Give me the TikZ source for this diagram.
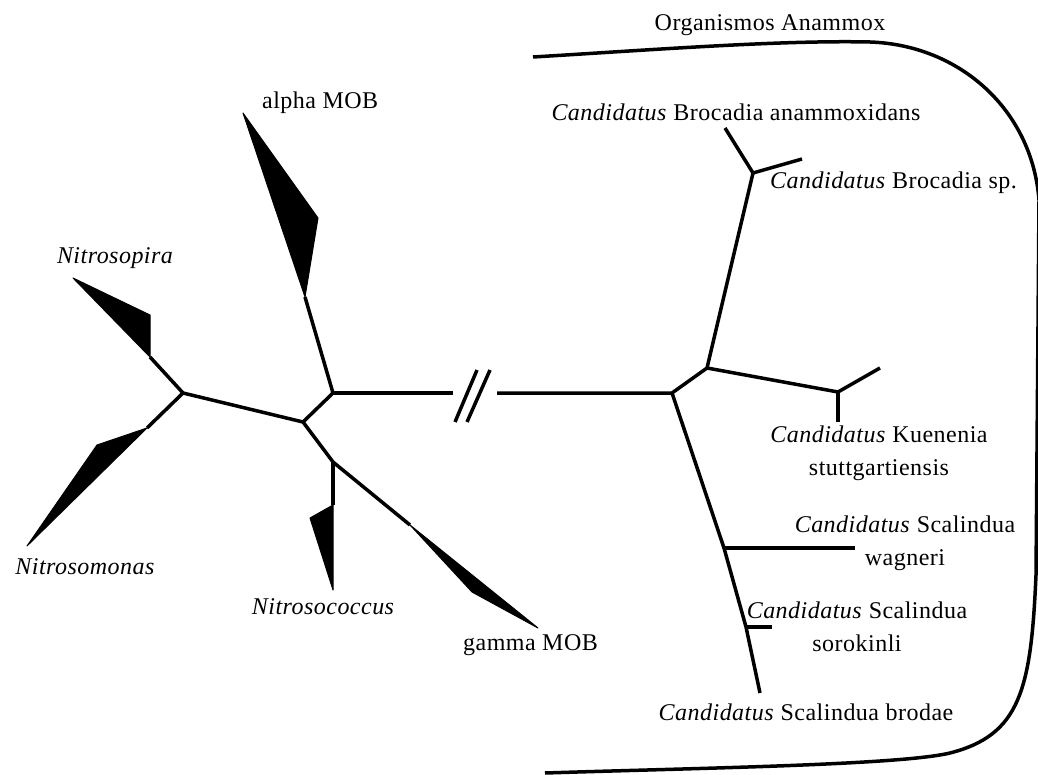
\documentclass[tikz,border=0pt]{standalone}
\usepackage{fontspec}
\setmainfont{Liberation Serif}[LetterSpace=2]
\begin{document}
\begin{tikzpicture}[x=1pt,y=-1pt,
  br/.style={line width=3.5pt,line join=round},
  wedge/.style={fill=black,draw=black,line width=1pt,line join=round},
  lbl/.style={inner sep=0pt,align=center,font=\fontsize{24}{33}\selectfont}]
\useasboundingbox (0,0) rectangle (1038,775);
% junctions
\coordinate (A) at (183,393);
\coordinate (B) at (303,422);
\coordinate (C) at (333,393);
\coordinate (D) at (333,462);
\coordinate (bl) at (453,393);
\coordinate (brr) at (497,393);
\coordinate (E) at (672,393);
\coordinate (F) at (707,368);
\coordinate (G) at (753,173);
\coordinate (H) at (838,392);
\coordinate (S1) at (724,548);
\coordinate (S2) at (746,627);
% stem ends
\coordinate (spB) at (150,357);
\coordinate (smB) at (147,428);
\coordinate (alB) at (305,297);
\coordinate (ncB) at (333,505);
\coordinate (gmB) at (410,525);
% tips
\coordinate (tBa) at (725,128);
\coordinate (tBs) at (802,159);
\coordinate (tK1) at (880,368);
\coordinate (tK2) at (838,422);
\coordinate (tW) at (855,548);
\coordinate (tS) at (772,627);
\coordinate (tBr) at (760,693);
% left tree
\draw[br] (spB) -- (A) -- (smB);
\draw[br] (A) -- (B) -- (C) -- (alB);
\draw[br] (B) -- (D) -- (gmB);
\draw[br] (D) -- (ncB);
\draw[br] (C) -- (bl);
% wedges
\draw[wedge] (73,278) -- (150,315) -- (spB) -- cycle;
\draw[wedge] (smB) -- (97,445) -- (27,546) -- cycle;
\draw[wedge] (243,113) -- (318,218) -- (alB) -- cycle;
\draw[wedge] (ncB) -- (310,518) -- (333,590) -- cycle;
\draw[wedge] (gmB) -- (472,592) -- (538,628) -- cycle;
% break
\draw[br] (455,422) -- (477,370);
\draw[br] (467,422) -- (490,370);
% right tree
\draw[br] (brr) -- (E) -- (F) -- (G) -- (tBa);
\draw[br] (G) -- (tBs);
\draw[br] (F) -- (H) -- (tK1);
\draw[br] (H) -- (tK2);
\draw[br] (E) -- (S1) -- (S2) -- (tBr);
\draw[br] (S1) -- (tW);
\draw[br] (S2) -- (tS);
% bracket
\draw[line width=3.5pt] (533,57) .. controls (650,50) and (780,40) .. (870,42)
  .. controls (960,45) and (1032,110) .. (1039,200)
  -- (1036,575)
  .. controls (1031,690) and (1020,735) .. (950,753)
  .. controls (900,765) and (700,768) .. (545,773);
% labels
\node[lbl] (org) at (770,25) {Organismos Anammox};
\node[lbl,anchor=west] (alpha) at (262,103) {alpha MOB};
\node[lbl] (nsp) at (115,258) {\itshape Nitrosopira};
\node[lbl] (nsm) at (85,567) {\itshape Nitrosomonas};
\node[lbl] (nsc) at (323,607) {\itshape Nitrosococcus};
\node[lbl,anchor=west] (gamma) at (463,645) {gamma MOB};
\node[lbl] (bra) at (736,112) {\textit{Candidatus} Brocadia anammoxidans};
\node[lbl,anchor=west] (brs) at (770,183) {\textit{Candidatus} Brocadia sp.};
\node[lbl] (kue) at (879,453) {\textit{Candidatus} Kuenenia\\stuttgartiensis};
\node[lbl] (wag) at (905,543) {\textit{Candidatus} Scalindua\\wagneri};
\node[lbl] (sor) at (857,627) {\textit{Candidatus} Scalindua\\sorokinli};
\node[lbl] (bro) at (806,712) {\textit{Candidatus} Scalindua brodae};
\end{tikzpicture}
\end{document}
